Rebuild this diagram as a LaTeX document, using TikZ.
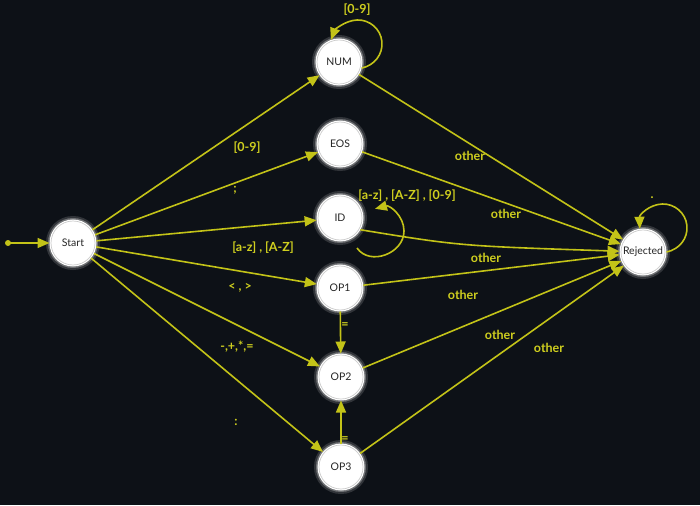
\documentclass[tikz,border=0pt]{standalone}
\usepackage{fontspec}
\setmainfont{Lato}
\usetikzlibrary{arrows.meta}
\definecolor{bg}{HTML}{0D1117}
\definecolor{edgecol}{HTML}{C3C318}
\definecolor{lblcol}{HTML}{CFCF1F}
\begin{document}
\begin{tikzpicture}[x=1pt,y=-1pt,
  state/.style={circle, minimum size=44pt, inner sep=0pt, fill=white, draw=gray!40, line width=0.7pt,
    font=\fontsize{10.5}{12}\selectfont, text=black!85,
    preaction={draw=white, opacity=0.15, line width=10pt},
    preaction={draw=white, opacity=0.3, line width=6pt},
    preaction={draw=white, line width=3pt}, outer sep=1.5pt},
  edge/.style={draw=edgecol, line width=1.6pt, -{Triangle[length=12pt,width=10pt]}},
  lbl/.style={text=lblcol, font=\fontsize{12.5}{14}\selectfont\bfseries, inner sep=1pt}]
\fill[bg] (0,0) rectangle (700,505);
\useasboundingbox (0,0) rectangle (700,505);

\node[state] (Start) at (73,243) {Start};
\node[state] (NUM) at (339,62) {NUM};
\node[state] (EOS) at (340,144) {EOS};
\node[state] (ID) at (340,218) {ID};
\node[state] (OP1) at (340,288) {OP1};
\node[state] (OP2) at (341,377) {OP2};
\node[state] (OP3) at (341,467) {OP3};
\node[state] (Rejected) at (643,252) {Rejected};

\coordinate (init) at (8,243);
\fill[edgecol] (init) circle (3pt);
\draw[edge] (init) -- (Start);

\draw[edge] (Start) -- (NUM);
\draw[edge] (Start) -- (EOS);
\draw[edge] (Start) -- (ID);
\draw[edge] (Start) -- (OP1);
\draw[edge] (Start) -- (OP2);
\draw[edge] (Start) -- (OP3);
\draw[edge] (OP1) -- (OP2);
\draw[edge] (OP3) -- (OP2);

\draw[edge] (NUM) -- (Rejected);
\draw[edge] (EOS) -- (Rejected);
\draw[edge] (ID.-30) .. controls (460,246) .. (Rejected);
\draw[edge] (OP1) -- (Rejected);
\draw[edge] (OP2) -- (Rejected);
\draw[edge] (OP3) -- (Rejected);

% self loops
\draw[edge] (NUM.-15) .. controls (374.6,65.4) and (383.2,54.0) .. (381.9,41.5)
  .. controls (380.6,29.0) and (369.8,19.6) .. (357.2,20.0)
  .. controls (344.6,20.4) and (334.4,30.6) .. (NUM.110);
\coordinate (idls) at (357,248);
\coordinate (idle) at (375,208.8);
\draw[edge] (idls) .. controls (369.9,266.4) and (404,253.5) .. (404,231)
  .. controls (404,215.9) and (389.6,204.9) .. (idle);
\draw[edge] (Rejected.0) .. controls (679.6,249.4) and (688.2,238.0) .. (686.9,225.5)
  .. controls (685.6,213.0) and (674.8,203.6) .. (662.2,204.0)
  .. controls (649.6,204.4) and (639.4,214.6) .. (Rejected.98);

% labels
\node[lbl] (lnum) at (357,10) {[0-9]};
\node[lbl] (lid) at (407,196) {[a-z] , [A-Z] , [0-9]};
\node[lbl] (lrej) at (652,198) {.};
\node[lbl] (l1) at (247,148) {[0-9]};
\node[lbl] (l2) at (235,190) {;};
\node[lbl] (l3) at (263,248) {[a-z] , [A-Z]};
\node[lbl] (l4) at (240,288) {< , >};
\node[lbl] (l5) at (237,347) {-,+,*,=};
\node[lbl] (l6) at (236,422) {:};
\node[lbl] (l7) at (345,326) {=};
\node[lbl] (l8) at (345,440) {=};
\node[lbl] (o1) at (470,156) {other};
\node[lbl] (o2) at (506,214) {other};
\node[lbl] (o3) at (486,258) {other};
\node[lbl] (o4) at (463,295) {other};
\node[lbl] (o5) at (500,335) {other};
\node[lbl] (o6) at (549,348) {other};
\end{tikzpicture}
\end{document}
